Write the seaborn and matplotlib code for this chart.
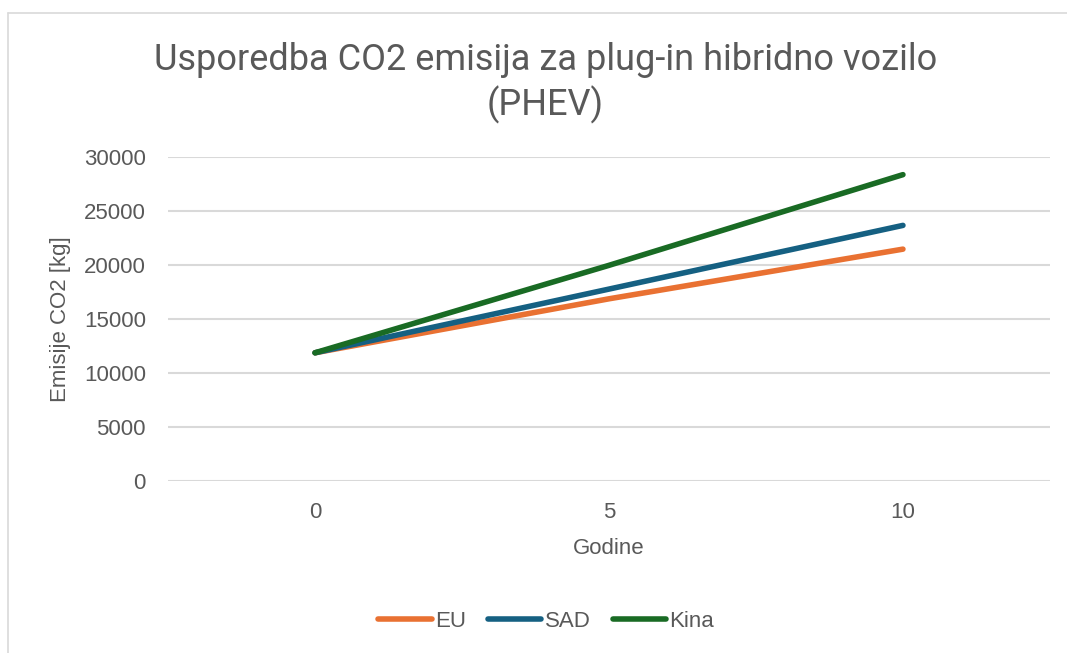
import pandas as pd
import seaborn as sns
import matplotlib.pyplot as plt
from matplotlib.lines import Line2D

# Data
godine = ["0", "5", "10"]
eu = [11900, 16900, 21500]
sad = [11900, 17800, 23700]
kina = [11900, 20000, 28400]
regije = ["EU", "SAD", "Kina"]
boje = ["#E97132", "#156082", "#196B24"]

yticks = [0, 5000, 10000, 15000, 20000, 25000, 30000]

df = pd.DataFrame({
    "Godine": godine * 3,
    "Emisije": eu + sad + kina,
    "Regija": [r for r in regije for _ in godine],
})

sns.set_style("white")
plt.rcParams["font.family"] = ["Liberation Sans", "DejaVu Sans"]
tekst = "#595959"

fig = plt.figure(figsize=(10.67, 6.53), dpi=100)
ax = fig.add_axes([0.1575, 0.263, 0.8265, 0.496])

sns.lineplot(data=df, x="Godine", y="Emisije", hue="Regija", hue_order=regije,
             palette=boje, linewidth=4, sort=False, ax=ax,
             solid_capstyle="round", legend=False)

ax.set_xlim(-0.5, 2.5)
ax.set_ylim(0, 30000)
ax.set_yticks(yticks)
ax.set_yticklabels([str(v) for v in yticks])
ax.yaxis.grid(True, color="#D9D9D9", linewidth=1.5)
ax.xaxis.grid(False)
for s in ax.spines.values():
    s.set_visible(False)
ax.tick_params(axis="both", length=0, labelsize=16, colors=tekst)
ax.tick_params(axis="x", pad=15)
ax.tick_params(axis="y", pad=16)

ax.set_xlabel("Godine", fontsize=16, color=tekst, labelpad=11)
ax.set_ylabel("Emisije CO2 [kg]", fontsize=16, color=tekst, labelpad=9)

fig.suptitle("Usporedba CO2 emisija za plug-in hibridno vozilo\n(PHEV)",
             x=0.511, y=0.935, fontsize=26, color=tekst,
             family=["Roboto", "DejaVu Sans"], linespacing=1.25)

handles = [Line2D([0], [0], color=c, linewidth=4, solid_capstyle="round") for c in boje]
fig.legend(handles, regije, loc="center", bbox_to_anchor=(0.512, 0.049), ncol=3,
           frameon=False, fontsize=16, labelcolor=tekst, handlelength=2.4,
           handletextpad=0.15, columnspacing=1.0)

# chart border
fig.add_artist(Line2D([7.5 / 1067, 1.0], [1 - 12.5 / 653] * 2, transform=fig.transFigure,
                      color="#D9D9D9", linewidth=1.2))
fig.add_artist(Line2D([7.5 / 1067] * 2, [0.0, 1 - 12.5 / 653], transform=fig.transFigure,
                      color="#D9D9D9", linewidth=1.2))

fig.savefig("out.png", dpi=100)
